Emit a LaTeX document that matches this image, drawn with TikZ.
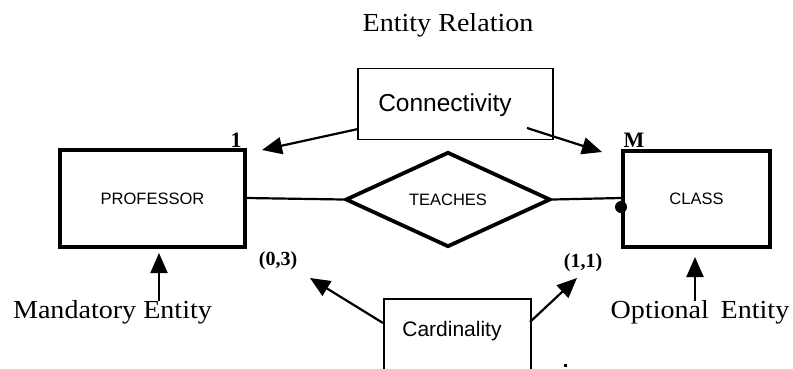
\documentclass[tikz,border=0pt]{standalone}
\usepackage{fontspec}
\setmainfont{Liberation Serif}
\setsansfont{Liberation Sans}
\usetikzlibrary{shapes.geometric,arrows.meta}
\begin{document}
\begin{tikzpicture}[x=1pt,y=-1pt,
  ent/.style={draw,line width=3.2pt,inner sep=0pt},
  lbl/.style={draw,line width=1.8pt,inner sep=0pt},
  sanssm/.style={font=\sffamily\fontsize{16.5}{16.5}\selectfont},
  serifbig/.style={font=\fontsize{26}{26}\selectfont,xscale=1.08},
  card/.style={font=\bfseries\fontsize{20}{20}\selectfont},
  conn/.style={line width=2.2pt},
  arr/.style={conn,-{Triangle[length=20pt,width=17pt]}}]
\useasboundingbox (0,0) rectangle (793,368);
\clip (0,0) rectangle (793,368);
\node[serifbig] (title) at (448,25) {Entity Relation};
% entities
\node[ent,minimum width=185pt,minimum height=97pt,sanssm] (prof) at (152.5,198.5) {PROFESSOR};
\node[ent,minimum width=147pt,minimum height=96pt,sanssm] (cls) at (696.5,199) {CLASS};
\node[diamond,draw,line width=3.8pt,inner sep=0pt,minimum width=205pt,minimum height=95pt,sanssm] (rel) at (448,199.5) {TEACHES};
\draw[conn] (prof.east |- 0,198) -- (rel.west);
\draw[conn] (rel.east) -- (cls.west |- 0,198);
\node[circle,fill=black,minimum size=12pt,inner sep=0pt] (opt) at (621,207) {};
% labels
\node[lbl,minimum width=195pt,minimum height=71pt] (connbox) at (455.5,104) {};
\node[font=\sffamily\fontsize{24.5}{24.5}\selectfont] (conntext) at (445,105) {Connectivity};
\node[lbl,minimum width=147pt,minimum height=90pt,anchor=north west] (cardbox) at (383,298) {};
\node[font=\sffamily\fontsize{21}{21}\selectfont] (cardtext) at (452,331) {Cardinality};
\node[font=\bfseries\fontsize{22}{22}\selectfont] (one) at (236,140) {1};
\node[font=\bfseries\fontsize{22}{22}\selectfont] (many) at (634,140) {M};
\node[card] (c03) at (278,261) {(0,3)};
\node[card] (c11) at (583,263) {(1,1)};
\node[serifbig] (mand) at (112.5,312) {Mandatory Entity};
\node[serifbig] (optl) at (700,312) {Optional\,\ Entity};
% arrows
\coordinate (a1s) at (358,129); \coordinate (a1e) at (262,150);
\coordinate (a2s) at (527,128); \coordinate (a2e) at (602,152);
\coordinate (a3s) at (383,323); \coordinate (a3e) at (310,278);
\coordinate (a4s) at (530,322); \coordinate (a4e) at (577,278);
\coordinate (a5s) at (159,301); \coordinate (a5e) at (159,253);
\coordinate (a6s) at (695,301); \coordinate (a6e) at (695,257);
\draw[arr] (a1s) -- (a1e);
\draw[arr] (a2s) -- (a2e);
\draw[arr] (a3s) -- (a3e);
\draw[arr] (a4s) -- (a4e);
\draw[arr] (a5s) -- (a5e);
\draw[arr] (a6s) -- (a6e);
\fill (564,364) rectangle (566.5,366.5);
\end{tikzpicture}
\end{document}
